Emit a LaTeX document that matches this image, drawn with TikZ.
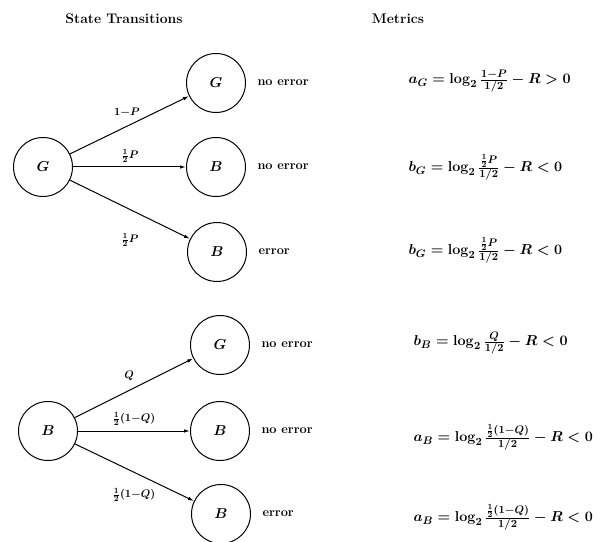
\documentclass[tikz,border=0pt]{standalone}
\usetikzlibrary{arrows.meta}
\begin{document}
\begin{tikzpicture}[x=1bp,y=-1bp,
  every node/.style={font=\fontsize{12.8}{16}\selectfont\bfseries\boldmath},
  title/.style={font=\fontsize{14}{16}\selectfont\bfseries},
  state/.style={draw,circle,line width=1bp,minimum size=59bp,inner sep=0pt,
    font=\fontsize{15}{18}\selectfont\boldmath},
  lbl/.style={anchor=west},
  elbl/.style={font=\fontsize{16}{18}\selectfont\boldmath},
  arr/.style={line width=1bp,-{Latex[length=6bp,width=3.5bp]}},
  metric/.style={anchor=west,font=\fontsize{15.7}{18}\selectfont\boldmath}]
\useasboundingbox (0,0) rectangle (614,542);
\node[title] (t1) at (124,19) {State Transitions};
\node[title] (t2) at (398,19) {Metrics};
% top group
\node[state] (g0) at (43,167) {$G$};
\node[state] (g1) at (216,83) {$G$};
\node[state] (g2) at (216,167) {$B$};
\node[state] (g3) at (217,252) {$B$};
\node[lbl] (n1) at (254,83) {no error};
\node[lbl] (n2) at (254,167) {no error};
\node[lbl] (n3) at (255,252) {error};
\draw[arr] (g0) -- (g1);
\draw[arr] (g0) -- (g2);
\draw[arr] (g0) -- (g3);
\node[elbl] (e1) at (127,112) {$\scriptstyle 1-P$};
\node[elbl] (e2) at (130,156) {$\scriptstyle \frac12 P$};
\node[elbl] (e3) at (130,240) {$\scriptstyle \frac12 P$};
\node[metric] (m1) at (405,81) {$a_G = \log_2 \frac{1-P}{1/2} - R > 0$};
\node[metric] (m2) at (405,167) {$b_G = \log_2 \frac{\frac12 P}{1/2} - R < 0$};
\node[metric] (m3) at (405,250) {$b_G = \log_2 \frac{\frac12 P}{1/2} - R < 0$};
% bottom group
\node[state] (b0) at (48,431) {$B$};
\node[state] (b1) at (220,345) {$G$};
\node[state] (b2) at (220,431) {$B$};
\node[state] (b3) at (221,514) {$B$};
\node[lbl] (n4) at (258,345) {no error};
\node[lbl] (n5) at (258,431) {no error};
\node[lbl] (n6) at (259,514) {error};
\draw[arr] (b0) -- (b1);
\draw[arr] (b0) -- (b2);
\draw[arr] (b0) -- (b3);
\node[elbl] (e4) at (129,376) {$\scriptstyle Q$};
\node[elbl] (e5) at (134,419) {$\scriptstyle \frac12(1-Q)$};
\node[elbl] (e6) at (134,495) {$\scriptstyle \frac12(1-Q)$};
\node[metric] (m4) at (410,343) {$b_B = \log_2 \frac{Q}{1/2} - R < 0$};
\node[metric] (m5) at (410,437) {$a_B = \log_2 \frac{\frac12(1-Q)}{1/2} - R < 0$};
\node[metric] (m6) at (410,517) {$a_B = \log_2 \frac{\frac12(1-Q)}{1/2} - R < 0$};
\end{tikzpicture}
\end{document}
